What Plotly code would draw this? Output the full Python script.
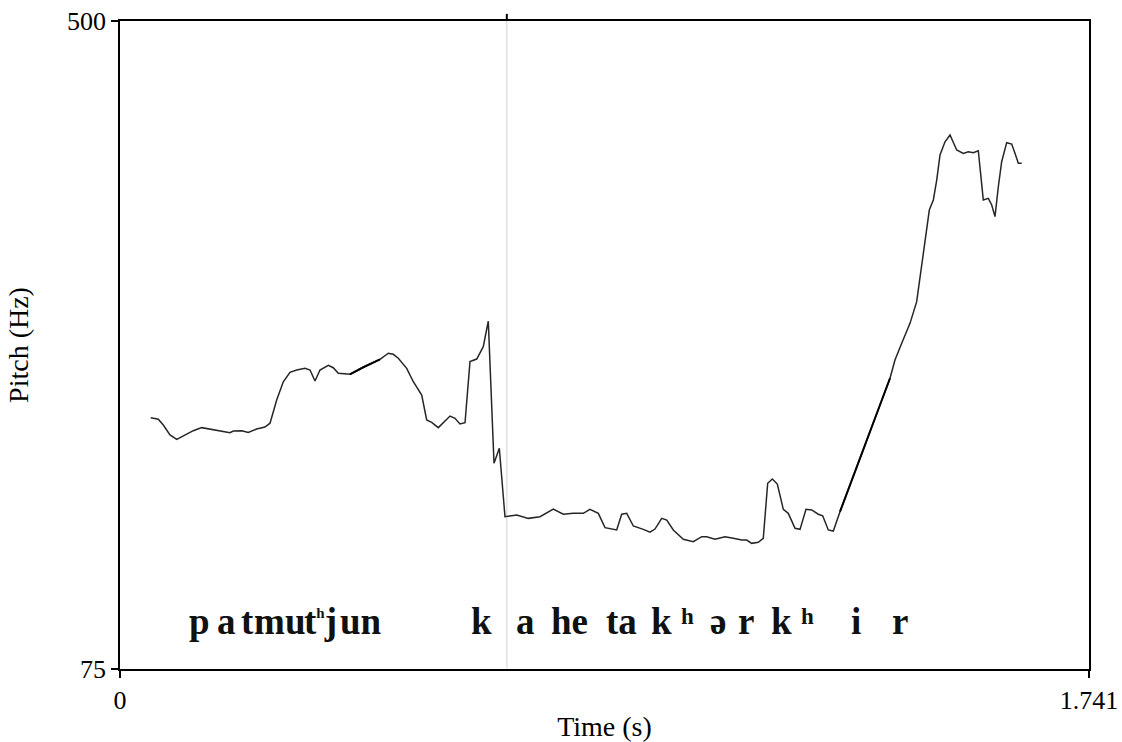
import plotly.graph_objects as go

# Pitch contour (time in s, F0 in Hz)
time_s = [0.0552, 0.0688, 0.0778, 0.0898, 0.1019, 0.1168, 0.1317, 0.1468, 0.1617, 0.1797,
          0.1976, 0.2036, 0.2187, 0.2305, 0.2456, 0.2605, 0.2695, 0.2815, 0.2934, 0.3054,
          0.3175, 0.3324, 0.3414, 0.3504, 0.3593, 0.3743, 0.3832, 0.3922, 0.4132, 0.4371,
          0.4671, 0.4821, 0.4910, 0.5000, 0.5151, 0.5270, 0.5421, 0.5510, 0.5600, 0.5719,
          0.5839, 0.5929, 0.6019, 0.6109, 0.6199, 0.6288, 0.6409, 0.6527, 0.6617, 0.6720,
          0.6815, 0.6917, 0.7128, 0.7217, 0.7336, 0.7546, 0.7785, 0.7965, 0.8144, 0.8324,
          0.8444, 0.8594, 0.8714, 0.8924, 0.9014, 0.9104, 0.9223, 0.9402, 0.9523, 0.9612,
          0.9733, 0.9823, 0.9941, 1.0121, 1.0300, 1.0451, 1.0541, 1.0690, 1.0870, 1.1019,
          1.1170, 1.1260, 1.1350, 1.1468, 1.1558, 1.1637, 1.1720, 1.1810, 1.1918, 1.2007,
          1.2128, 1.2218, 1.2325, 1.2428, 1.2546, 1.2625, 1.2726, 1.2816, 1.2936, 1.3835,
          1.3924, 1.4045, 1.4194, 1.4314, 1.4404, 1.4494, 1.4541, 1.4613, 1.4674, 1.4733,
          1.4823, 1.4913, 1.4972, 1.5033, 1.5152, 1.5241, 1.5331, 1.5421, 1.5511, 1.5601,
          1.5662, 1.5721, 1.5781, 1.5841, 1.5931, 1.6021, 1.6080, 1.6140, 1.6201]
pitch_hz = [239.8, 238.8, 235.0, 228.5, 225.6, 228.5, 231.3, 233.3, 232.4, 231.3,
            230.0, 231.1, 231.3, 230.2, 232.4, 233.7, 236.2, 251.4, 263.4, 269.6,
            271.1, 272.2, 271.1, 263.9, 271.1, 274.2, 272.6, 268.9, 268.3, 272.9,
            278.1, 282.1, 281.4, 278.8, 272.2, 263.4, 254.7, 238.3, 236.8, 233.3,
            237.7, 240.9, 239.4, 235.7, 236.5, 276.6, 278.3, 286.4, 303.1, 209.9,
            219.8, 174.9, 176.0, 174.9, 173.8, 174.9, 179.9, 176.5, 177.1, 177.1,
            179.7, 177.1, 167.7, 166.2, 176.5, 177.1, 168.8, 166.6, 164.7, 166.8,
            173.8, 172.7, 166.2, 160.1, 158.5, 161.8, 161.8, 160.1, 161.8, 160.7,
            159.6, 159.6, 157.4, 158.1, 160.7, 196.8, 199.6, 196.3, 179.7, 177.1,
            167.3, 166.6, 179.7, 179.3, 176.5, 175.5, 166.2, 165.5, 178.2, 265.7,
            277.7, 288.6, 301.7, 315.9, 338.9, 362.9, 376.0, 382.6, 395.7, 412.1,
            420.8, 425.2, 419.8, 415.4, 413.2, 414.3, 413.6, 414.9, 382.6, 383.7,
            379.3, 371.7, 391.3, 407.7, 420.2, 419.3, 413.2, 406.7, 406.7]

# interpolated (unvoiced-gap) stretches drawn darker
interp_ranges = [(0.4132, 0.4671), (1.2936, 1.3835)]

# segment transcription labels and their midpoint times (s)
seg_labels = ["p", "a", "t", "m", "u",
              "t<sup><span style='font-size:15px'>h</span></sup>j",
              "un", "k", "a", "he", "ta", "k", "ə", "r", "k", "i", "r"]
seg_times = [0.1437, 0.1922, 0.2282, 0.2677, 0.3162, 0.3611, 0.4330, 0.6486,
             0.7277, 0.8085, 0.9002, 0.9738, 1.0744, 1.1247, 1.1894, 1.3224, 1.4014]
# aspiration superscripts
aspir_labels = ["h", "h"]
aspir_times = [1.0205, 1.2361]

cursor_time = 0.695
x_range = [0, 1.741]
y_range = [75, 500]

serif = "Liberation Serif, Times New Roman, serif"

fig = go.Figure()
fig.add_trace(go.Scatter(x=time_s, y=pitch_hz, mode="lines",
                         line=dict(color="#262626", width=1.5), showlegend=False,
                         hoverinfo="skip"))
for a, b in interp_ranges:
    xs = [t for t in time_s if a - 1e-6 <= t <= b + 1e-6]
    ys = [p for t, p in zip(time_s, pitch_hz) if a - 1e-6 <= t <= b + 1e-6]
    fig.add_trace(go.Scatter(x=xs, y=ys, mode="lines",
                             line=dict(color="#000000", width=2), showlegend=False,
                             hoverinfo="skip"))

# cursor line
fig.add_shape(type="line", xref="x", yref="paper", x0=cursor_time, x1=cursor_time,
              y0=0, y1=1, line=dict(color="#dcdcdc", width=1.2), layer="below")
fig.add_shape(type="line", xref="x", yref="paper", x0=cursor_time, x1=cursor_time,
              y0=1, y1=1.011, line=dict(color="#000000", width=2))

for lab, t in zip(seg_labels, seg_times):
    fig.add_annotation(x=t, y=106, xref="x", yref="y", text=f"<b>{lab}</b>",
                       showarrow=False, xanchor="center", yanchor="middle",
                       font=dict(family=serif, size=37, color="#111"))
for lab, t in zip(aspir_labels, aspir_times):
    fig.add_annotation(x=t, y=109.5, xref="x", yref="y", text=f"<b>{lab}</b>",
                       showarrow=False, xanchor="center", yanchor="middle",
                       font=dict(family=serif, size=23, color="#111"))

fig.update_xaxes(range=x_range, tickvals=x_range, ticktext=["0", "1.741"],
                 showgrid=False, zeroline=False, showline=True, mirror=True,
                 linecolor="#000", linewidth=1.5, ticks="outside", ticklen=7,
                 tickcolor="#000", tickwidth=1.5, automargin=False,
                 tickfont=dict(family=serif, size=26, color="#000"),
                 title=dict(text="Time (s)", font=dict(family=serif, size=28, color="#000"),
                            standoff=2))
fig.update_yaxes(range=y_range, tickvals=y_range, ticktext=["75", "500"],
                 showgrid=False, zeroline=False, showline=True, mirror=True,
                 linecolor="#000", linewidth=1.5, ticks="outside", ticklen=7,
                 tickcolor="#000", tickwidth=1.5, automargin=False,
                 tickfont=dict(family=serif, size=26, color="#000"),
                 title=dict(text="Pitch (Hz)", font=dict(family=serif, size=28, color="#000"),
                            standoff=30))

fig.update_layout(width=1122, height=742, paper_bgcolor="white", plot_bgcolor="white",
                  margin=dict(l=120, r=33, t=21, b=73, autoexpand=False))

fig.write_html("out.html", config={"displayModeBar": False},
               post_script="document.body.style.margin='0';document.body.style.overflow='hidden';")
